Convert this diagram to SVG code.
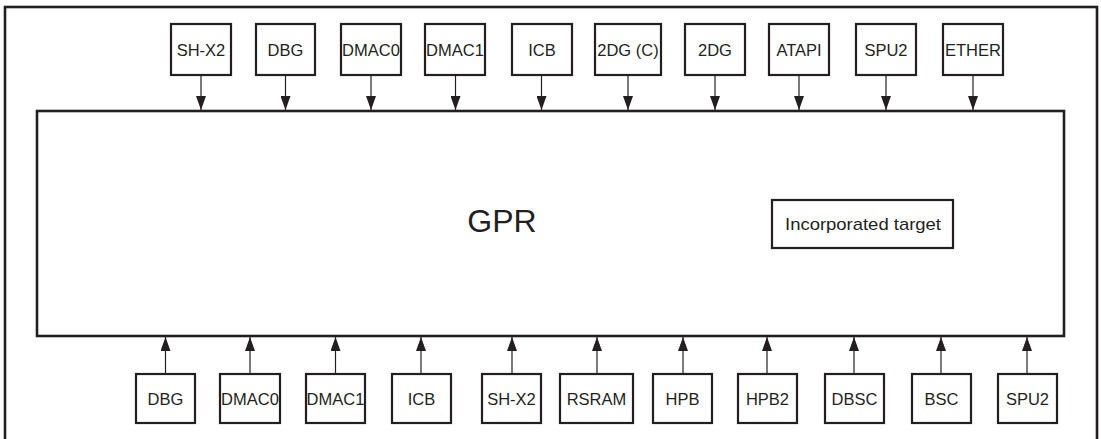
<svg xmlns="http://www.w3.org/2000/svg" width="1101" height="439" viewBox="0 0 1101 439">
<style>
.box{fill:#fff;stroke:#231f20;stroke-width:2.2}
.lbl{font-family:"Liberation Sans",Arial,sans-serif;font-size:16.5px;fill:#231f20;text-anchor:middle}
.con{stroke:#231f20;stroke-width:1.2;fill:none}
</style>
<defs>
<marker id="ah" markerUnits="userSpaceOnUse" markerWidth="14" markerHeight="10" refX="14" refY="5" orient="auto" viewBox="0 0 14 10">
<path d="M0,0 L14,5 L0,10 Z" fill="#231f20"/>
</marker>
</defs>
<rect x="5" y="7" width="1092" height="440" fill="#fff" stroke="#231f20" stroke-width="2.6"/>
<g id="gpr">
<rect class="box" x="37" y="111" width="1027" height="225" style="stroke-width:2.6"/>
<text x="502" y="232" font-family="Liberation Sans,Arial,sans-serif" font-size="32" fill="#231f20" text-anchor="middle">GPR</text>
</g>
<g id="incorporated-target">
<rect class="box" x="772" y="200" width="181" height="48"/>
<text class="lbl" x="863" y="230" textLength="156" lengthAdjust="spacingAndGlyphs" style="font-size:17px">Incorporated target</text>
</g>
<g id="top-shx2"><rect class="box" x="171" y="24" width="60" height="51"/><text class="lbl" x="201" y="55.5">SH-X2</text></g>
<g id="top-dbg"><rect class="box" x="256" y="24" width="59" height="51"/><text class="lbl" x="285.5" y="55.5">DBG</text></g>
<g id="top-dmac0"><rect class="box" x="341" y="24" width="60" height="51"/><text class="lbl" x="371" y="55.5">DMAC0</text></g>
<g id="top-dmac1"><rect class="box" x="425" y="24" width="60" height="51"/><text class="lbl" x="455" y="55.5">DMAC1</text></g>
<g id="top-icb"><rect class="box" x="512" y="24" width="60" height="51"/><text class="lbl" x="542" y="55.5">ICB</text></g>
<g id="top-2dgc"><rect class="box" x="595" y="24" width="66" height="51"/><text class="lbl" x="628" y="55.5">2DG (C)</text></g>
<g id="top-2dg"><rect class="box" x="685" y="24" width="60" height="51"/><text class="lbl" x="715" y="55.5">2DG</text></g>
<g id="top-atapi"><rect class="box" x="769" y="24" width="60" height="51"/><text class="lbl" x="799" y="55.5">ATAPI</text></g>
<g id="top-spu2"><rect class="box" x="856" y="24" width="60" height="51"/><text class="lbl" x="886" y="55.5">SPU2</text></g>
<g id="top-ether"><rect class="box" x="943" y="24" width="60" height="51"/><text class="lbl" x="973" y="55.5">ETHER</text></g>
<g id="bot-dbg"><rect class="box" x="136" y="374" width="59" height="49"/><text class="lbl" x="165.5" y="405">DBG</text></g>
<g id="bot-dmac0"><rect class="box" x="220" y="374" width="60" height="49"/><text class="lbl" x="250" y="405">DMAC0</text></g>
<g id="bot-dmac1"><rect class="box" x="306" y="374" width="59" height="49"/><text class="lbl" x="335.5" y="405">DMAC1</text></g>
<g id="bot-icb"><rect class="box" x="392" y="374" width="59" height="49"/><text class="lbl" x="421.5" y="405">ICB</text></g>
<g id="bot-shx2"><rect class="box" x="482" y="374" width="59" height="49"/><text class="lbl" x="511.5" y="405">SH-X2</text></g>
<g id="bot-rsram"><rect class="box" x="560" y="374" width="73" height="49"/><text class="lbl" x="596.5" y="405">RSRAM</text></g>
<g id="bot-hpb"><rect class="box" x="653" y="374" width="59" height="49"/><text class="lbl" x="682.5" y="405">HPB</text></g>
<g id="bot-hpb2"><rect class="box" x="738" y="374" width="59" height="49"/><text class="lbl" x="767.5" y="405">HPB2</text></g>
<g id="bot-dbsc"><rect class="box" x="825" y="374" width="59" height="49"/><text class="lbl" x="854.5" y="405">DBSC</text></g>
<g id="bot-bsc"><rect class="box" x="912" y="374" width="59" height="49"/><text class="lbl" x="941.5" y="405">BSC</text></g>
<g id="bot-spu2"><rect class="box" x="998" y="374" width="59" height="49"/><text class="lbl" x="1027.5" y="405">SPU2</text></g>
<g id="connectors">
<path class="con" marker-end="url(#ah)" d="M201,76 V110"/>
<path class="con" marker-end="url(#ah)" d="M285.5,76 V110"/>
<path class="con" marker-end="url(#ah)" d="M371,76 V110"/>
<path class="con" marker-end="url(#ah)" d="M455.5,76 V110"/>
<path class="con" marker-end="url(#ah)" d="M541.5,76 V110"/>
<path class="con" marker-end="url(#ah)" d="M628,76 V110"/>
<path class="con" marker-end="url(#ah)" d="M715,76 V110"/>
<path class="con" marker-end="url(#ah)" d="M799,76 V110"/>
<path class="con" marker-end="url(#ah)" d="M886,76 V110"/>
<path class="con" marker-end="url(#ah)" d="M973,76 V110"/>
<path class="con" marker-end="url(#ah)" d="M165.5,373 V337"/>
<path class="con" marker-end="url(#ah)" d="M250,373 V337"/>
<path class="con" marker-end="url(#ah)" d="M335.5,373 V337"/>
<path class="con" marker-end="url(#ah)" d="M421,373 V337"/>
<path class="con" marker-end="url(#ah)" d="M512,373 V337"/>
<path class="con" marker-end="url(#ah)" d="M597,373 V337"/>
<path class="con" marker-end="url(#ah)" d="M683,373 V337"/>
<path class="con" marker-end="url(#ah)" d="M767,373 V337"/>
<path class="con" marker-end="url(#ah)" d="M854,373 V337"/>
<path class="con" marker-end="url(#ah)" d="M941,373 V337"/>
<path class="con" marker-end="url(#ah)" d="M1027,373 V337"/>
</g>
</svg>
